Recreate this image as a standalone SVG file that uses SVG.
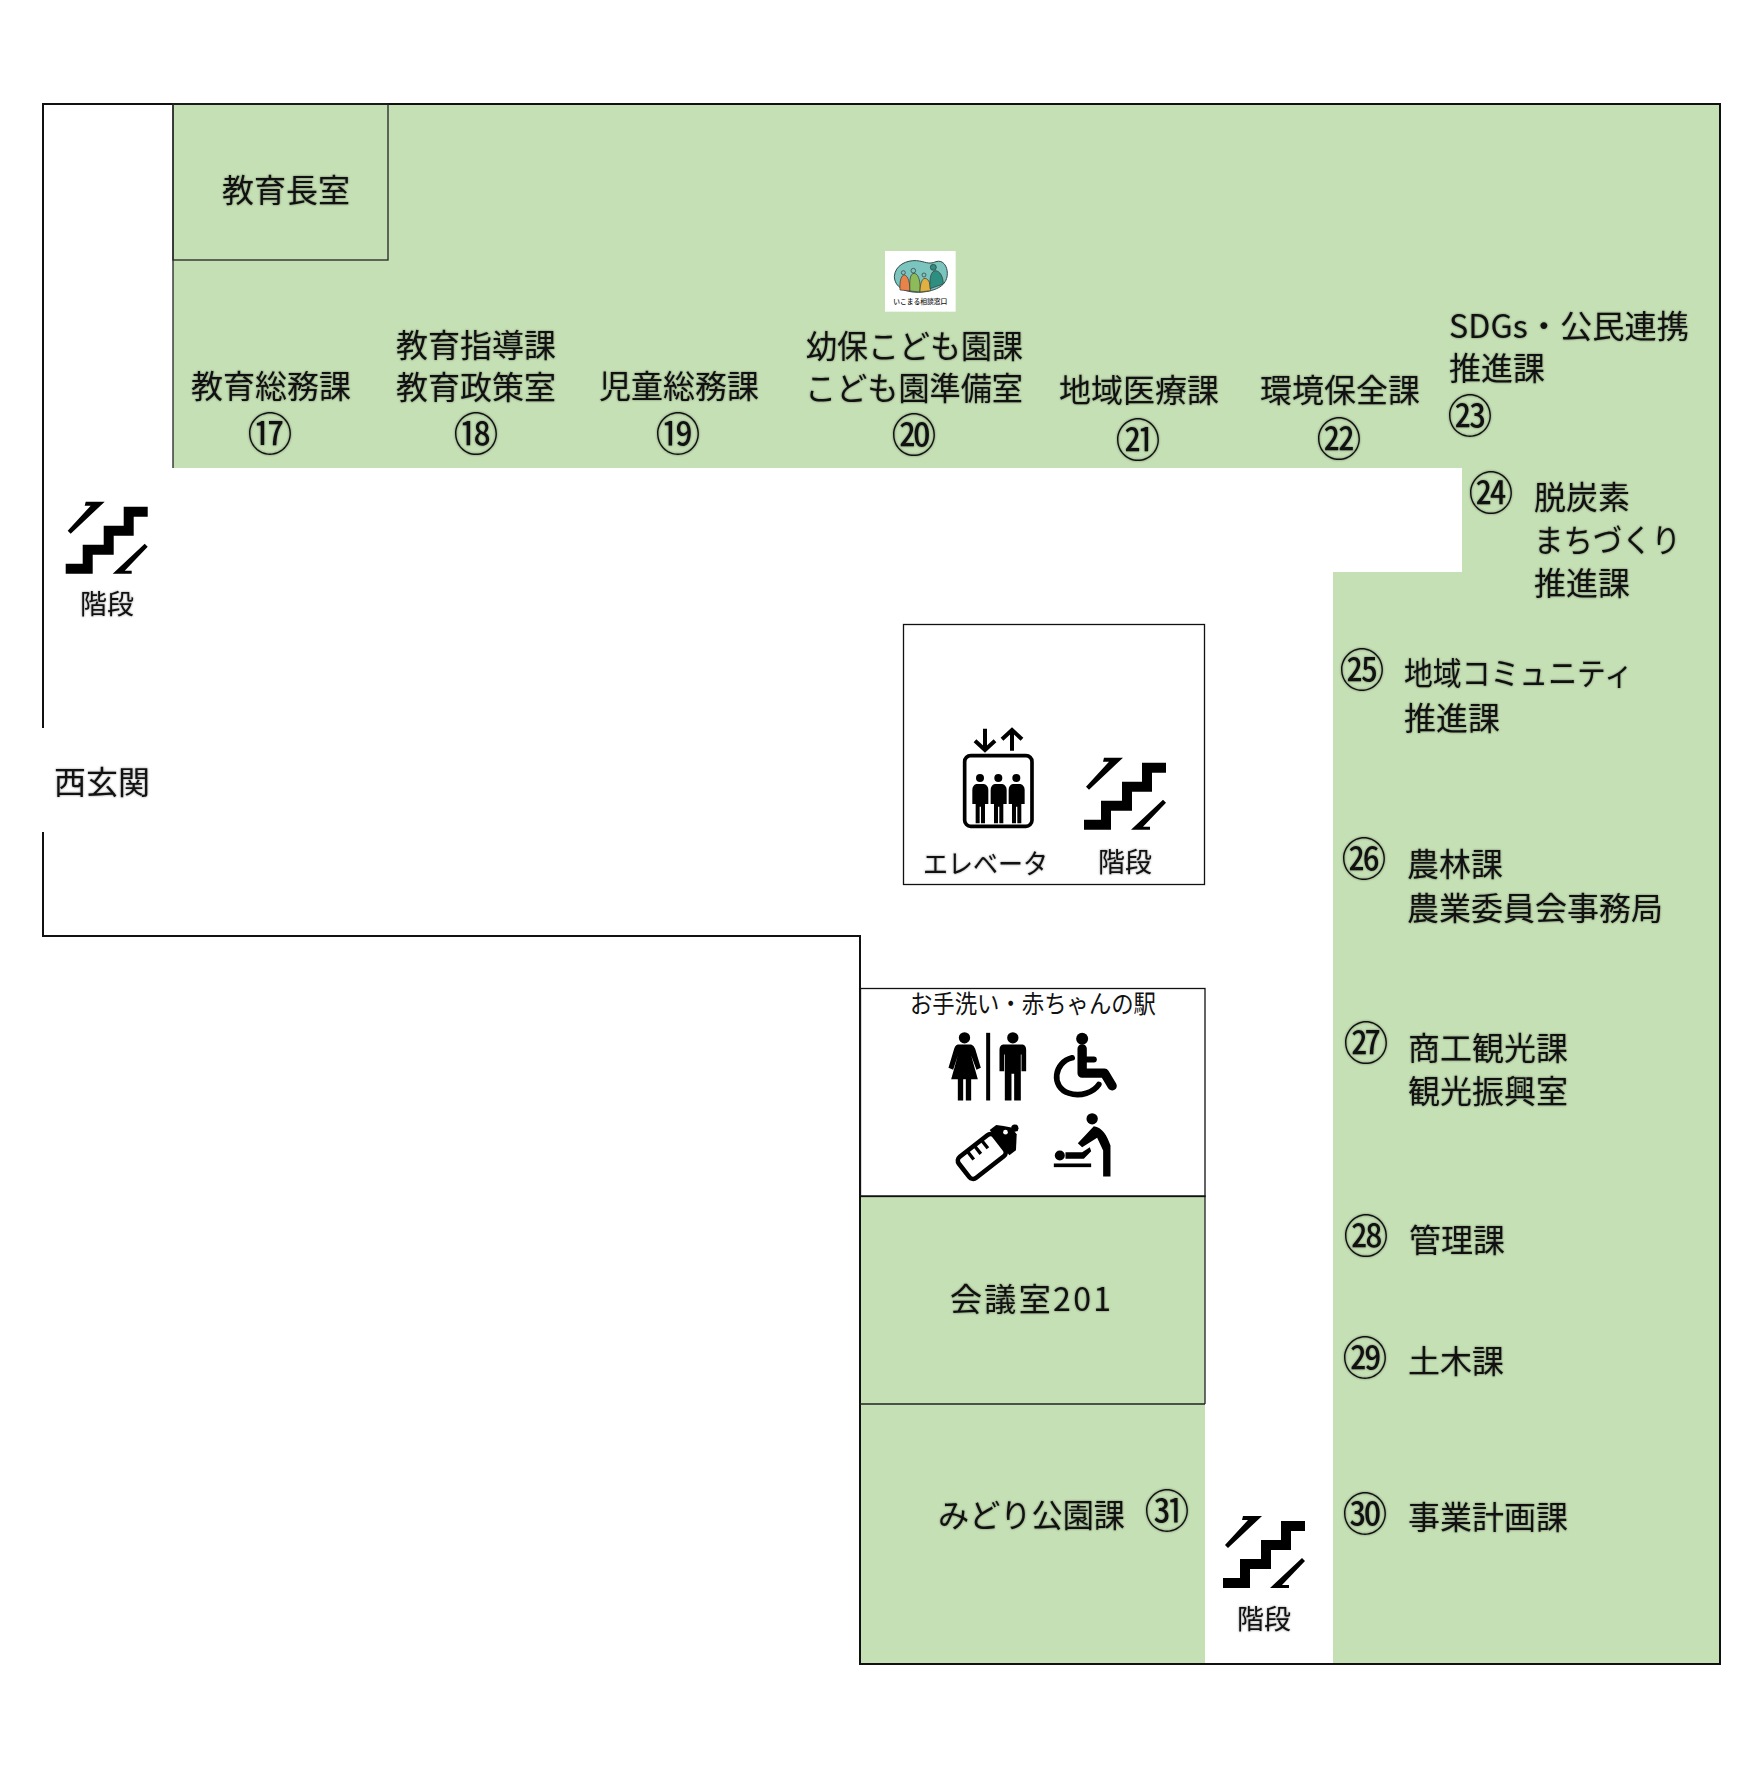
<svg xmlns="http://www.w3.org/2000/svg" width="1764" height="1769" viewBox="0 0 1764 1769">
<style>
text{font-family:"Noto Sans CJK JP","Noto Sans",sans-serif;fill:#111;}
.l,.n,.s{filter:drop-shadow(.6px .8px .8px rgba(0,0,0,.45));}
.l{font-size:32px;font-weight:400;}
.n{font-size:45px;text-anchor:middle;font-weight:400;}
.s{font-size:27px;}
.g{fill:#C5E0B4;}
.w{fill:none;stroke:#111;stroke-width:2;}
.t{fill:none;stroke:#222;stroke-width:1.3;}
.k{fill:#000;}
</style>
<defs>
<symbol id="stairs" overflow="visible" viewBox="0 0 82 67" width="82" height="67">
<polygon class="k" points="0,57 17,57 17,38 38,38 38,19 58,19 58,0 82,0 82,10 68,10 68,29 48,29 48,48 27,48 27,67 0,67"/>
<polygon class="k" points="2,24 25,-1 19,-1 20,-5 39,-5 5,27"/>
<polygon class="k" points="79,37 82,40 59,64 66,64 66,67 47,67"/>
</symbol>
</defs>
<rect width="1764" height="1769" fill="#fff"/>
<g id="floor">
<path class="g" d="M173 104H1720V1664H1333V572H1462V468H173Z"/>
<rect class="g" x="860" y="1196" width="345" height="468"/>
<path class="w" d="M43 728V104H1720V1664H860V936H43V832"/>
<path class="t" d="M173 104V468"/>
</g>
<g id="room-kyoikucho"><rect class="g t" x="173" y="104" width="215" height="156"/><text class="l" x="222" y="202">教育長室</text></g>
<g id="logo" transform="translate(860 230) scale(.3333)">
<rect x="75" y="63" width="212" height="182" fill="#fff"/>
<path d="M103 140C105 105 140 90 170 92C195 94 205 105 228 95C250 88 262 110 262 130C262 160 240 180 190 186C150 190 105 180 103 140Z" fill="#7CC5BF" stroke="#2d4a4a" stroke-width="3"/>
<path d="M120 180C118 150 125 135 133 135C145 137 150 160 150 183Z" fill="#E8834A" stroke="#333" stroke-width="2"/>
<path d="M150 183C148 150 150 130 163 130C178 132 182 160 180 186Z" fill="#8DBB5A" stroke="#333" stroke-width="2"/>
<path d="M180 186C180 165 185 145 195 145C208 147 212 165 212 182Z" fill="#E0B040" stroke="#333" stroke-width="2"/>
<path d="M210 176C208 145 212 122 228 122C245 125 250 150 250 162Z" fill="#2E8F80" stroke="#333" stroke-width="2"/>
<circle cx="130" cy="128" r="6" fill="#7CC5BF" stroke="#333" stroke-width="2"/><circle cx="160" cy="122" r="7" fill="#7CC5BF" stroke="#333" stroke-width="2"/><circle cx="192" cy="135" r="6" fill="#7CC5BF" stroke="#333" stroke-width="2"/><circle cx="220" cy="112" r="9" fill="#2E8F80" stroke="#333" stroke-width="2"/>
<text x="100" y="222" font-size="20" font-weight="500" textLength="162" lengthAdjust="spacingAndGlyphs">いこまる相談窓口</text>
</g>
<g id="d17"><text class="l" x="191" y="398">教育総務課</text><text class="n" x="270" y="451">⑰</text></g>
<g id="d18"><text class="l" x="396" y="357">教育指導課</text><text class="l" x="396" y="399">教育政策室</text><text class="n" x="476" y="451">⑱</text></g>
<g id="d19"><text class="l" x="599" y="398">児童総務課</text><text class="n" x="678" y="451">⑲</text></g>
<g id="d20"><text class="l" x="806" y="358" textLength="217" lengthAdjust="spacingAndGlyphs">幼保こども園課</text><text class="l" x="805" y="400" textLength="218" lengthAdjust="spacingAndGlyphs">こども園準備室</text><text class="n" x="914" y="452">⑳</text></g>
<g id="d21"><text class="l" x="1059" y="402">地域医療課</text><text class="n" x="1138" y="457">㉑</text></g>
<g id="d22"><text class="l" x="1260" y="402">環境保全課</text><text class="n" x="1339" y="456">㉒</text></g>
<g id="d23"><text class="l" x="1449" y="338" textLength="240" lengthAdjust="spacingAndGlyphs">SDGs・公民連携</text><text class="l" x="1449" y="380">推進課</text><text class="n" x="1470" y="433">㉓</text></g>
<g id="d24"><text class="n" x="1491" y="510">㉔</text><text class="l" x="1534" y="509">脱炭素</text><text class="l" x="1534" y="552" textLength="147" lengthAdjust="spacingAndGlyphs">まちづくり</text><text class="l" x="1534" y="595">推進課</text></g>
<g id="d25"><text class="n" x="1362" y="687">㉕</text><text class="l" x="1404" y="685" textLength="229" lengthAdjust="spacingAndGlyphs">地域コミュニティ</text><text class="l" x="1404" y="730">推進課</text></g>
<g id="d26"><text class="n" x="1364" y="876">㉖</text><text class="l" x="1407" y="876">農林課</text><text class="l" x="1407" y="920">農業委員会事務局</text></g>
<g id="d27"><text class="n" x="1366" y="1060">㉗</text><text class="l" x="1408" y="1060">商工観光課</text><text class="l" x="1408" y="1103">観光振興室</text></g>
<g id="d28"><text class="n" x="1366" y="1253">㉘</text><text class="l" x="1409" y="1252">管理課</text></g>
<g id="d29"><text class="n" x="1365" y="1375">㉙</text><text class="l" x="1408" y="1373">土木課</text></g>
<g id="d30"><text class="n" x="1365" y="1531">㉚</text><text class="l" x="1408" y="1529">事業計画課</text></g>
<g id="d31"><text class="l" x="938" y="1527" textLength="187" lengthAdjust="spacingAndGlyphs">みどり公園課</text><text class="n" x="1167" y="1528">㉛</text></g>
<g id="room201"><path class="t" d="M860 1196H1205V1404M860 1404H1205"/><text class="l" x="950" y="1311" textLength="161" lengthAdjust="spacing">会議室201</text></g>
<g id="nishi-genkan"><text class="l" x="54" y="794">西玄関</text></g>
<g id="stairs-west"><use href="#stairs" x="65.7" y="506.7" width="82" height="67"/><text class="s" x="80" y="614">階段</text></g>
<g id="stairs-south"><use href="#stairs" x="1223" y="1521" width="82" height="67"/><text class="s" x="1237" y="1629">階段</text></g>
<g id="core">
<rect class="w" style="stroke-width:1.3" x="903.500" y="624.500" width="301" height="260"/>
<g transform="translate(901 710) scale(.3333)">
<rect x="191" y="137" width="202" height="212" rx="18" fill="none" stroke="#000" stroke-width="11"/>
<g class="k">
<g><circle cx="237" cy="204" r="12"/><path d="M226 222H249Q262 226 262 240V282H252V340H240V290H236V340H224V282H214V240Q214 226 226 222Z"/></g>
<g><circle cx="292" cy="204" r="12"/><path d="M281 222H304Q317 226 317 240V282H307V340H295V290H291V340H279V282H269V240Q269 226 281 222Z"/></g>
<g><circle cx="346" cy="204" r="12"/><path d="M335 222H358Q371 226 371 240V282H361V340H349V290H345V340H333V282H323V240Q323 226 335 222Z"/></g>
</g>
<path d="M252 56V118M222 92L252 120L282 92M333 122V60M303 88L333 60L363 88" fill="none" stroke="#000" stroke-width="12"/>
</g>
<text class="s" x="923" y="874" textLength="125" lengthAdjust="spacingAndGlyphs">エレベータ</text>
<use href="#stairs" x="1084" y="762.700" width="82" height="67"/>
<text class="s" x="1098" y="872">階段</text>
</g>
<g id="toilets">
<rect class="w" style="stroke-width:1.3" x="860.500" y="988.500" width="344.500" height="208"/>
<text x="910" y="1013" font-size="25" textLength="246" lengthAdjust="spacingAndGlyphs">お手洗い・赤ちゃんの駅</text>
<g transform="translate(880.500 980.500) scale(.3333)" class="k">
<circle cx="252" cy="172" r="17"/><path d="M232 192H272Q280 194 284 205L301 262L288 268L272 225L292 296H272V360H256V296H248V360H232V296H212L232 225L218 268L204 262L221 205Q224 194 232 192Z"/>
<rect x="317" y="157" width="12" height="203"/>
<circle cx="397" cy="172" r="17"/><path d="M368 192H426Q437 194 437 208V272H423V222H421V360H401V280H393V360H373V222H371V272H357V208Q357 194 368 192Z"/>
<circle cx="605" cy="175" r="18"/>
<path d="M605 205V278H672L695 316" fill="none" stroke="#000" stroke-width="28" stroke-linecap="round" stroke-linejoin="round"/>
<path d="M605 237H640" fill="none" stroke="#000" stroke-width="18" stroke-linecap="round"/>
<path d="M575 232C520 245 510 320 565 338C600 350 640 335 655 312" fill="none" stroke="#000" stroke-width="17" stroke-linecap="round"/>
<g transform="rotate(-38 312 523)"><rect x="235" y="482" width="135" height="80" rx="15" fill="#fff" stroke="#000" stroke-width="14"/><path d="M278 482V514M305 482V514M332 482V514" stroke="#000" stroke-width="10" fill="none"/><path d="M370 474H395Q410 489 426 508V534Q410 553 395 570H370Z"/></g>
<circle cx="403" cy="443" r="11"/><circle cx="375" cy="455" r="7" fill="#fff"/>
<circle cx="635" cy="415" r="17"/>
<path d="M640 437C665 440 680 465 690 495V588H668V510L650 472L605 500L592 488Z"/>
<path d="M555 515H605L628 500L632 512L610 535H555Z"/><circle cx="538" cy="525" r="15"/><rect x="520" y="549" width="112" height="11"/>
</g>
</g>
</svg>
